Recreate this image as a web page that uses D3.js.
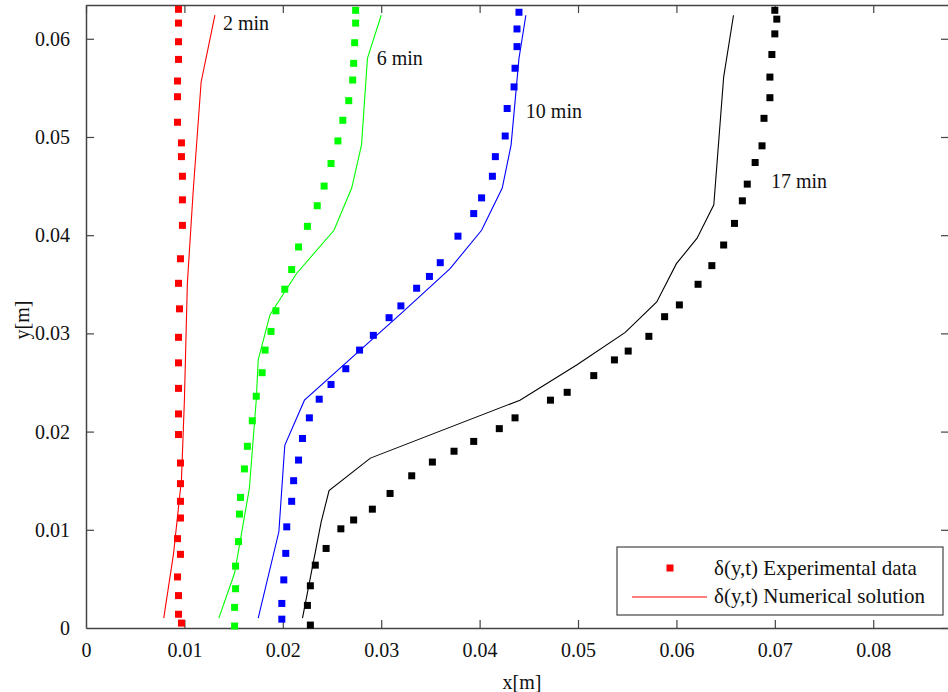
<!DOCTYPE html>
<html>
<head>
<meta charset="utf-8">
<script src="https://cdn.jsdelivr.net/npm/d3@7"></script>
<style>
  body { margin: 0; background: #fff; }
  svg { display: block; font-family: "Liberation Serif", "DejaVu Serif", serif; }
</style>
</head>
<body>
<svg id="grafico" width="948" height="692"></svg>
<script>
// experimental points [x, y] in metres
var exp2min = [
  [0.0094, 0.0630], [0.0094, 0.0616], [0.0094, 0.0597], [0.0094, 0.0579], [0.0093, 0.0557],
  [0.0093, 0.0541], [0.0093, 0.0515], [0.0097, 0.0494], [0.0097, 0.0480], [0.0098, 0.0460],
  [0.0098, 0.0436], [0.0098, 0.0410], [0.0096, 0.0376], [0.0094, 0.0351], [0.0095, 0.0325],
  [0.0094, 0.0296], [0.0094, 0.0270], [0.0094, 0.0244], [0.0094, 0.0218], [0.0094, 0.0197],
  [0.0096, 0.0168], [0.0096, 0.0147], [0.0096, 0.0129], [0.0096, 0.0112], [0.0093, 0.0091],
  [0.0096, 0.0075], [0.0093, 0.0052], [0.0094, 0.0033], [0.0094, 0.0014], [0.0097, 0.0005]
]
var exp6min = [
  [0.0274, 0.0629], [0.0274, 0.0616], [0.0273, 0.0596], [0.0272, 0.0575], [0.0271, 0.0558],
  [0.0267, 0.0537], [0.0261, 0.0517], [0.0256, 0.0496], [0.0249, 0.0473], [0.0242, 0.0450],
  [0.0235, 0.0430], [0.0225, 0.0409], [0.0216, 0.0388], [0.0209, 0.0365], [0.0202, 0.0345],
  [0.0193, 0.0323], [0.0188, 0.0302], [0.0182, 0.0283], [0.0179, 0.0260], [0.0173, 0.0236],
  [0.0169, 0.0211], [0.0164, 0.0185], [0.0161, 0.0162], [0.0157, 0.0133], [0.0156, 0.0116],
  [0.0155, 0.0088], [0.0152, 0.0063], [0.0152, 0.0040], [0.0151, 0.0021], [0.0151, 0.0002]
]
var exp10min = [
  [0.0440, 0.0627], [0.0438, 0.0610], [0.0438, 0.0592], [0.0436, 0.0570], [0.0435, 0.0551],
  [0.0428, 0.0529], [0.0426, 0.0501], [0.0416, 0.0480], [0.0413, 0.0460], [0.0402, 0.0438],
  [0.0394, 0.0422], [0.0378, 0.0399], [0.0360, 0.0372], [0.0349, 0.0358], [0.0336, 0.0346],
  [0.0320, 0.0328], [0.0308, 0.0316], [0.0292, 0.0298], [0.0278, 0.0283], [0.0264, 0.0264],
  [0.0249, 0.0248], [0.0237, 0.0233], [0.0227, 0.0214], [0.0220, 0.0193], [0.0216, 0.0171],
  [0.0211, 0.0150], [0.0209, 0.0129], [0.0204, 0.0103], [0.0203, 0.0076], [0.0201, 0.0049],
  [0.0199, 0.0025], [0.0199, 0.0009]
]
var exp17min = [
  [0.0700, 0.0629], [0.0702, 0.0620], [0.0700, 0.0605], [0.0697, 0.0584], [0.0695, 0.0561],
  [0.0695, 0.0540], [0.0689, 0.0519], [0.0687, 0.0491], [0.0680, 0.0474], [0.0672, 0.0452],
  [0.0667, 0.0435], [0.0659, 0.0412], [0.0648, 0.0390], [0.0636, 0.0369], [0.0622, 0.0350],
  [0.0603, 0.0329], [0.0588, 0.0317], [0.0572, 0.0297], [0.0551, 0.0282], [0.0537, 0.0273],
  [0.0516, 0.0257], [0.0489, 0.0240], [0.0472, 0.0232], [0.0436, 0.0214], [0.0420, 0.0203],
  [0.0394, 0.0190], [0.0374, 0.0180], [0.0352, 0.0169], [0.0331, 0.0155], [0.0309, 0.0137],
  [0.0291, 0.0121], [0.0272, 0.0110], [0.0259, 0.0101], [0.0244, 0.0081], [0.0233, 0.0064],
  [0.0228, 0.0043], [0.0225, 0.0023], [0.0228, 0.0003]
]

// numerical solution
var num2min = [
  [0.0079, 0.0010], [0.0089, 0.0076], [0.0097, 0.0151], [0.0100, 0.0232],
  [0.0103, 0.0351], [0.0109, 0.0446], [0.0117, 0.0556], [0.0131, 0.0624]
]
var num6min = [
  [0.0135, 0.0010], [0.0151, 0.0056], [0.0166, 0.0142], [0.0173, 0.0232], [0.0175, 0.0273],
  [0.0187, 0.0319], [0.0214, 0.0361], [0.0252, 0.0405], [0.0270, 0.0448], [0.0280, 0.0492],
  [0.0286, 0.0580], [0.0300, 0.0624]
]
var num10min = [
  [0.0175, 0.0010], [0.0196, 0.0098], [0.0202, 0.0186], [0.0222, 0.0232], [0.0322, 0.0322],
  [0.0370, 0.0366], [0.0402, 0.0405], [0.0423, 0.0448], [0.0432, 0.0492], [0.0440, 0.0580],
  [0.0447, 0.0624]
]
var num17min = [
  [0.0220, 0.0010], [0.0239, 0.0108], [0.0247, 0.0140], [0.0289, 0.0173], [0.0441, 0.0232],
  [0.0499, 0.0268], [0.0548, 0.0301], [0.0580, 0.0332], [0.0600, 0.0371], [0.0621, 0.0397],
  [0.0638, 0.0431], [0.0648, 0.0561], [0.0658, 0.0624]
]

var series = [
  {nome: "2 min",  cor: "#ff0000", exp: exp2min,  num: num2min,  rotulo: [0.01392, 0.0609]},
  {nome: "6 min",  cor: "#00ff00", exp: exp6min,  num: num6min,  rotulo: [0.02954, 0.0573]},
  {nome: "10 min", cor: "#0000ff", exp: exp10min, num: num10min, rotulo: [0.0447, 0.0519]},
  {nome: "17 min", cor: "#000000", exp: exp17min, num: num17min, rotulo: [0.0696, 0.0448]}
]

var xTicks = [0, 0.01, 0.02, 0.03, 0.04, 0.05, 0.06, 0.07, 0.08]
var yTicks = [0, 0.01, 0.02, 0.03, 0.04, 0.05, 0.06]
var legendaTextos = ["\u03b4(y,t) Experimental data", "\u03b4(y,t) Numerical solution"]

var margin = {top: 5, right: -1, bottom: 64, left: 86},
    width = 948 - margin.left - margin.right,
    height = 692 - margin.top - margin.bottom,
    tickLen = 8,
    lado = 7,
    eixoCor = "#444"

var x = d3.scaleLinear().domain([0, 0.0877]).range([0, width])
var y = d3.scaleLinear().domain([0, 0.06344]).range([height, 0])

var svg = d3.select("#grafico")
var g = svg.append("g").attr("transform", "translate(" + margin.left + "," + margin.top + ")")

// eixos com ticks para dentro (estilo matlab)
var fmt = function(d) { return d === 0 ? "0" : d3.format(".2f")(d) }

var eixoX = g.append("g").attr("transform", "translate(0," + height + ")")
    .call(d3.axisBottom(x).tickValues(xTicks).tickFormat(fmt).tickSizeInner(-tickLen).tickSizeOuter(0).tickPadding(tickLen + 7))
var eixoY = g.append("g")
    .call(d3.axisLeft(y).tickValues(yTicks).tickFormat(fmt).tickSizeInner(-tickLen).tickSizeOuter(0).tickPadding(tickLen + 8))
var eixoTopo = g.append("g")
    .call(d3.axisTop(x).tickValues(xTicks).tickFormat("").tickSizeInner(-tickLen).tickSizeOuter(0))
var eixoDir = g.append("g").attr("transform", "translate(" + width + ",0)")
    .call(d3.axisRight(y).tickValues(yTicks).tickFormat("").tickSizeInner(-tickLen).tickSizeOuter(0))

;[eixoX, eixoY, eixoTopo, eixoDir].forEach(function(e) {
  e.selectAll(".domain").attr("stroke", eixoCor).attr("stroke-width", 1.5)
  e.selectAll(".tick line").attr("stroke", eixoCor).attr("stroke-width", 1.2)
  e.selectAll("text").attr("font-size", 20).attr("font-family", "Liberation Serif").attr("fill", "#111")
})
eixoX.selectAll(".tick").filter(function(d) { return d === 0 }).select("line").remove()
eixoY.selectAll(".tick").filter(function(d) { return d === 0 }).select("line").remove()

// linhas numericas
var linha = d3.line().x(function(d) { return x(d[0]) }).y(function(d) { return y(d[1]) })

series.forEach(function(s) {
  g.append("path")
    .datum(s.num)
    .attr("fill", "none")
    .attr("stroke", s.cor)
    .attr("stroke-width", 1.1)
    .attr("d", linha)

  g.selectAll(null)
    .data(s.exp)
    .enter()
    .append("rect")
    .attr("x", function(d) { return x(d[0]) - lado / 2 })
    .attr("y", function(d) { return y(d[1]) - lado / 2 })
    .attr("width", lado)
    .attr("height", lado)
    .attr("fill", s.cor)

  g.append("text")
    .attr("x", x(s.rotulo[0]))
    .attr("y", y(s.rotulo[1]))
    .attr("font-size", 20)
    .attr("fill", "#111")
    .text(s.nome)
})

// titulos dos eixos
svg.append("text")
  .attr("x", margin.left + x(0.0443))
  .attr("y", 689)
  .attr("text-anchor", "middle")
  .attr("font-size", 20)
  .attr("fill", "#111")
  .text("x[m]")

svg.append("text")
  .attr("transform", "translate(29,320) rotate(-90)")
  .attr("text-anchor", "middle")
  .attr("font-size", 20)
  .attr("fill", "#111")
  .text("y[m]")

// legenda
var leg = svg.append("g").attr("transform", "translate(617,547)")
leg.append("rect")
  .attr("width", 326)
  .attr("height", 68)
  .attr("fill", "#fff")
  .attr("stroke", eixoCor)
  .attr("stroke-width", 1.2)
leg.append("rect")
  .attr("x", 53 - lado / 2)
  .attr("y", 21 - lado / 2)
  .attr("width", lado)
  .attr("height", lado)
  .attr("fill", "#ff0000")
leg.append("line")
  .attr("x1", 15).attr("x2", 90)
  .attr("y1", 50).attr("y2", 50)
  .attr("stroke", "#ff0000")
  .attr("stroke-width", 1.1)
leg.selectAll(".legtxt")
  .data(legendaTextos)
  .enter()
  .append("text")
  .attr("x", 97)
  .attr("y", function(d, i) { return 28 + i * 28 })
  .attr("font-size", 21)
  .attr("fill", "#111")
  .text(function(d) { return d })
</script>
</body>
</html>
